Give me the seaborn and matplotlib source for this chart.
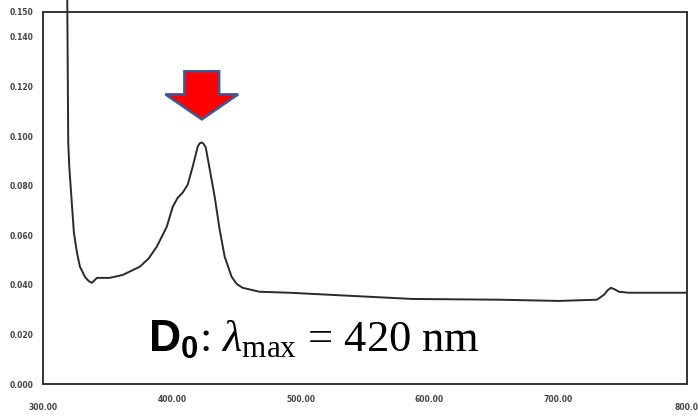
import numpy as np
import pandas as pd
import matplotlib
matplotlib.use("Agg")
import matplotlib.pyplot as plt
from matplotlib.patches import Polygon
import seaborn as sns

# absorption spectrum
wavelength = [318.8, 319.6, 320.4, 322.2, 324.0, 326.4, 328.7, 332.6, 335.5, 338.0,
              341.9, 351.9, 362.0, 375.2, 382.0, 388.4, 396.1, 400.8, 404.5, 408.5,
              412.4, 416.3, 420.2, 421.8, 423.3, 424.8, 426.4, 429.5, 433.3, 437.2,
              441.1, 446.5, 450.5, 455.0, 468.2, 491.5, 586.8, 654.0, 700.8, 730.2,
              735.7, 738.5, 741.1, 744.2, 747.3, 755.0, 799.2]
absorbance = [0.158, 0.0974, 0.0877, 0.0743, 0.0610, 0.0529, 0.0473, 0.0432, 0.0415, 0.0408,
              0.0428, 0.0428, 0.0440, 0.0473, 0.0506, 0.0554, 0.0634, 0.0715, 0.0750, 0.0772,
              0.0804, 0.0877, 0.0958, 0.0971, 0.0974, 0.0968, 0.0954, 0.0865, 0.0756, 0.0622,
              0.0513, 0.0432, 0.0403, 0.0388, 0.0372, 0.0368, 0.0343, 0.0340, 0.0335, 0.0340,
              0.0360, 0.0378, 0.0388, 0.0381, 0.0372, 0.0368, 0.0368]

y_ticks = [0.000, 0.020, 0.040, 0.060, 0.080, 0.100, 0.120, 0.140, 0.150]
x_ticks_upper = [400, 500, 600, 700]
x_ticks_lower = [300, 800]
x_labels_upper = ["400.00", "500.00", "600.00", "700.00"]
x_labels_lower = ["300.00", "800.0"]

peak_nm = 423.3

sns.set_style("white")
plt.rcParams["mathtext.fontset"] = "custom"
plt.rcParams["mathtext.rm"] = "Liberation Serif"
plt.rcParams["mathtext.it"] = "Liberation Serif:italic"
plt.rcParams["mathtext.bf"] = "Liberation Sans:bold"

df = pd.DataFrame({"nm": wavelength, "abs": absorbance})

fig = plt.figure(figsize=(6.98, 4.18), dpi=100)
ax = fig.add_axes([0.0616, 0.0813, 0.9224, 0.89])

sns.lineplot(data=df, x="nm", y="abs", ax=ax, color="#2a2a2a", linewidth=1.4,
             sort=False, estimator=None, clip_on=False)

ax.set_xlim(300, 800)
ax.set_ylim(0, 0.15)
ax.set_xlabel("")
ax.set_ylabel("")

ax.set_yticks(y_ticks)
ax.set_yticklabels([f"{v:.3f}" for v in y_ticks], fontsize=5.5, fontweight="bold", color="#444444")
ax.set_xticks(x_ticks_upper)
ax.set_xticklabels(x_labels_upper, fontsize=5.5, fontweight="bold", color="#444444")
ax.set_xticks(x_ticks_lower, minor=True)
ax.set_xticklabels(x_labels_lower, minor=True, fontsize=5.5, fontweight="bold", color="#444444")
ax.tick_params(axis="both", which="both", direction="out", length=3, width=1, color="#333333")
ax.tick_params(axis="x", which="major", pad=5)
ax.tick_params(axis="x", which="minor", pad=14, length=0)
ax.tick_params(axis="y", pad=4)

for side in ["left", "right", "top", "bottom"]:
    ax.spines[side].set_visible(True)
    ax.spines[side].set_color("#333333")
    ax.spines[side].set_linewidth(1.4)

# red block arrow above the peak
shaft_w, head_w = 13.5, 28.3
tip_y, head_y, top_y = 0.1067, 0.1168, 0.1261
arrow = Polygon([(peak_nm - shaft_w, top_y), (peak_nm + shaft_w, top_y),
                 (peak_nm + shaft_w, head_y), (peak_nm + head_w, head_y),
                 (peak_nm, tip_y), (peak_nm - head_w, head_y),
                 (peak_nm - shaft_w, head_y)],
                closed=True, facecolor="#ff0000", edgecolor="#3b5998", linewidth=1.8)
ax.add_patch(arrow)

ax.text(381.4, 0.0129, r"$\mathbf{D_0}$: $\lambda_{\mathrm{max}}$ = 420 nm",
        fontsize=32, family="Liberation Serif", ha="left", va="baseline", color="black")

fig.savefig("out.png", dpi=100)
